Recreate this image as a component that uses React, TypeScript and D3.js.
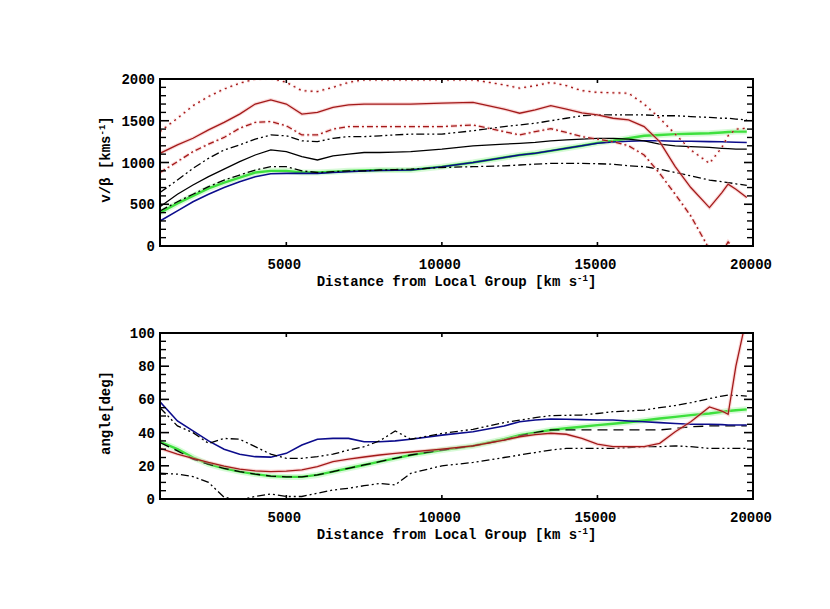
import React from 'react';
import * as d3 from 'd3';

// Distance from Local Group (shared abscissa)
const distances = [940,1500,2000,2500,3000,3500,4000,4500,5000,5500,6000,6500,7000,7500,8000,8500,9000,10000,11000,12000,12500,13000,13500,14000,14500,15000,15500,16000,16500,17000,17500,18000,18600,19000,19200,19450,19800];

// Top panel: v/beta [km s^-1]
const velRedUpper = [1370,1530,1680,1790,1880,1950,2000,2010,1960,1860,1850,1900,1960,1990,1990,1990,1990,1990,1990,1930,1890,1920,1960,1920,1860,1840,1835,1830,1700,1530,1340,1150,990,1180,1320,1400,1410];
const velRedMid = [1110,1210,1290,1390,1480,1580,1700,1750,1700,1580,1600,1660,1690,1700,1700,1700,1700,1710,1720,1640,1590,1630,1680,1640,1595,1570,1530,1510,1430,1250,950,700,460,640,740,680,580];
const velRedLow = [880,1010,1130,1220,1300,1410,1480,1490,1440,1330,1330,1400,1430,1430,1430,1430,1430,1430,1450,1370,1330,1370,1405,1360,1310,1280,1250,1200,1090,870,620,360,-40,-80,50,-60,-200];
const velBlackUpper = [640,790,930,1050,1150,1210,1280,1330,1320,1260,1250,1290,1310,1310,1320,1330,1340,1340,1380,1430,1450,1470,1500,1530,1560,1570,1570,1570,1570,1560,1560,1550,1540,1530,1530,1520,1510];
const velBlackMid = [470,620,730,830,920,1010,1090,1150,1130,1070,1030,1080,1100,1120,1120,1125,1130,1160,1200,1220,1230,1240,1260,1270,1280,1290,1290,1280,1260,1220,1200,1190,1180,1170,1165,1160,1160];
const velBlackLow = [420,530,620,710,790,850,910,950,950,900,880,890,900,900,910,915,920,940,950,960,970,980,990,990,990,985,980,960,950,920,880,840,790,770,760,745,725];
const velGreen = [400,510,600,690,760,820,880,900,900,880,880,890,900,905,910,910,910,950,1000,1060,1090,1110,1140,1170,1200,1235,1260,1290,1320,1330,1340,1345,1350,1360,1365,1370,1370];
const velBlue = [300,420,530,620,700,770,830,865,870,870,870,880,890,900,905,908,910,950,1000,1060,1090,1110,1140,1170,1200,1230,1245,1255,1260,1260,1255,1255,1250,1248,1245,1243,1240];

// Bottom panel: angle [deg]
const angBlackUpper = [55,44,40,33.5,36.5,36,31.5,27,24.5,24.5,25.5,27,29.5,31.5,35,41,36,39.5,42,46,47.5,49,50.2,50.4,50.6,51.5,52.6,53,53.6,55,56.3,58,60.5,62,62.6,62.4,62];
const angBlue = [58.6,47,41,35,30,27,25.5,25.2,27.5,32.5,36,36.5,36.5,34.5,34.5,35,36,38.5,40.5,44,46.5,47.6,48.2,48,47.8,47.6,47.6,47,46.5,46,45.5,45,45,44.8,44.6,44.6,44.6];
const angBlackMid = [34,29,24,21,18.5,16.5,15,13.8,13.3,13.3,14.5,16.5,18.5,20.5,22.5,24.5,26.5,29.5,32,35.5,38,40,41.6,41.6,41.6,41.6,41.6,41.6,41.6,41.6,42.5,43.5,44,44,44,44,44];
const angGreen = [34.5,30,25,21,18.5,16.5,15,13.8,13.3,13.3,14.5,16.5,18.5,20.5,22.5,24.5,26.5,29.5,32,36,38.5,40,41.6,42.6,43.5,44.5,45.3,46.2,47.3,48.5,49.5,50.5,51.5,52.5,53,53.5,54];
const angRed = [30.5,27,24.5,22,19.8,18,17,16.5,16.8,17.5,19.5,22.5,24,25.3,26.5,27.5,28.3,30,32,35.5,37.5,38.8,39.6,39,36.5,33,31.5,31.5,31.5,33.5,40.5,46.5,55.5,53,51,80,110];
const angBlackLow = [15.5,15,13.5,10,1,-0.5,1.5,3,1.5,1.5,3.5,5.4,6.5,8,9.4,8.5,15.5,20,22,25,26.5,28,29.5,30.5,30.5,30.5,30.5,31,31.5,31.5,32,31.5,30.5,30.5,30.5,30.5,30.5];

const xTicks = [5000, 10000, 15000, 20000];
const velTicks = [0, 500, 1000, 1500, 2000];
const angTicks = [0, 20, 40, 60, 80, 100];

const RED = '#a31a1a';
const BLUE = '#0c0c8c';
const GREEN = '#3ee03e';
const BLACK = '#000';

const FONT = "'Liberation Mono', 'DejaVu Sans Mono', monospace";

type Series = { values: number[]; color: string; dash?: string; width: number; halo?: string; haloWidth?: number };

const X0 = 160, X1 = 753;
const x = d3.scaleLinear().domain([940, 20000]).range([X0, X1]);

function Panel(props: {
  id: string; top: number; bottom: number; domain: [number, number]; ticks: number[]; minorStep: number;
  yLabel: React.ReactNode; series: Series[];
}) {
  const { id, top, bottom, domain, ticks, minorStep, yLabel, series } = props;
  const y = d3.scaleLinear().domain(domain).range([bottom, top]);
  const minors = d3.range(domain[0], domain[1] + 1e-9, minorStep).filter(v => !ticks.includes(v));
  const line = d3.line<[number, number]>().x(d => x(d[0])).y(d => y(d[1]));
  const tl = 9, tm = 6;
  return (
    <g>
      <defs>
        <clipPath id={id}><rect x={X0} y={top} width={X1 - X0} height={bottom - top} /></clipPath>
      </defs>
      <g clipPath={`url(#${id})`}>
        {series.map((s, i) => {
          const pts = distances.map((d, k) => [d, s.values[k]] as [number, number]);
          const p = line(pts) || '';
          return (
            <g key={i}>
              {s.halo && <path d={p} fill="none" stroke={s.halo} strokeWidth={s.haloWidth || 3} strokeDasharray={s.dash} strokeOpacity={0.45} />}
              <path d={p} fill="none" stroke={s.color} strokeWidth={s.width} strokeDasharray={s.dash} />
            </g>
          );
        })}
      </g>
      {ticks.map(t => (
        <g key={'M' + t}>
          <line x1={X0} x2={X0 + tl} y1={y(t)} y2={y(t)} stroke="#000" strokeWidth={1.6} />
          <line x1={X1} x2={X1 - tl} y1={y(t)} y2={y(t)} stroke="#000" strokeWidth={1.6} />
          <text x={155} y={y(t) + 5} textAnchor="end" fontFamily={FONT} fontWeight="bold" fontSize={14}>{t}</text>
        </g>
      ))}
      {minors.map(t => (
        <g key={'m' + t}>
          <line x1={X0} x2={X0 + tm} y1={y(t)} y2={y(t)} stroke="#000" strokeWidth={1.4} />
          <line x1={X1} x2={X1 - tm} y1={y(t)} y2={y(t)} stroke="#000" strokeWidth={1.4} />
        </g>
      ))}
      {xTicks.map(t => (
        <g key={'x' + t}>
          <line x1={x(t)} x2={x(t)} y1={bottom} y2={bottom - 4} stroke="#000" strokeWidth={1.6} />
          <line x1={x(t)} x2={x(t)} y1={top} y2={top + 4} stroke="#000" strokeWidth={1.6} />
          <text x={x(t) - 2} y={bottom + 23} textAnchor="middle" fontFamily={FONT} fontWeight="bold" fontSize={14}>{t}</text>
        </g>
      ))}
      <rect x={X0} y={top} width={X1 - X0} height={bottom - top} fill="none" stroke="#000" strokeWidth={2} />
      <text x={(X0 + X1) / 2} y={bottom + 40} textAnchor="middle" fontFamily={FONT} fontWeight="bold" fontSize={14}>
        Distance from Local Group [km s<tspan dy={-5} fontSize={9}>-1</tspan><tspan dy={5}>]</tspan>
      </text>
      <text transform={`translate(110,${(top + bottom) / 2 - 3}) rotate(-90)`} textAnchor="middle" fontFamily={FONT} fontWeight="bold" fontSize={14}>
        {yLabel}
      </text>
    </g>
  );
}

export default function App() {
  const redHalo = '#f3a8a8';
  const greenHalo = '#a8f5a8';
  const topSeries: Series[] = [
    { values: velGreen, color: GREEN, width: 2.4, halo: greenHalo, haloWidth: 6 },
    { values: velBlue, color: BLUE, width: 1.6 },
    { values: velBlackUpper, color: BLACK, width: 1.3, dash: '8,3,2,3,2,3' },
    { values: velBlackMid, color: BLACK, width: 1.3 },
    { values: velBlackLow, color: BLACK, width: 1.3, dash: '8,3,2,3' },
    { values: velRedUpper, color: RED, width: 1.3, dash: '2,4', halo: redHalo, haloWidth: 3.5 },
    { values: velRedMid, color: RED, width: 1.3, halo: redHalo, haloWidth: 3.5 },
    { values: velRedLow, color: RED, width: 1.3, dash: '6,3,2,3', halo: redHalo, haloWidth: 3.5 },
  ];
  const botSeries: Series[] = [
    { values: angGreen, color: GREEN, width: 2.4, halo: greenHalo, haloWidth: 6 },
    { values: angBlackMid, color: BLACK, width: 1.3, dash: '10,6' },
    { values: angBlue, color: BLUE, width: 1.6 },
    { values: angBlackUpper, color: BLACK, width: 1.3, dash: '8,3,2,3,2,3' },
    { values: angBlackLow, color: BLACK, width: 1.3, dash: '8,3,2,3,2,3' },
    { values: angRed, color: RED, width: 1.3, halo: redHalo, haloWidth: 3.5 },
  ];
  return (
    <svg width={830} height={609} style={{ position: 'absolute', left: 0, top: 0, background: '#fff' }}>
      <rect x={0} y={0} width={830} height={609} fill="#fff" />
      <Panel id="clipTop" top={79} bottom={246} domain={[0, 2000]} ticks={velTicks} minorStep={100}
        yLabel={<>v/β [kms<tspan dy={-5} fontSize={9}>-1</tspan><tspan dy={5}>]</tspan></>} series={topSeries} />
      <Panel id="clipBot" top={333} bottom={499} domain={[0, 100]} ticks={angTicks} minorStep={5}
        yLabel={<>angle[deg]</>} series={botSeries} />
    </svg>
  );
}
